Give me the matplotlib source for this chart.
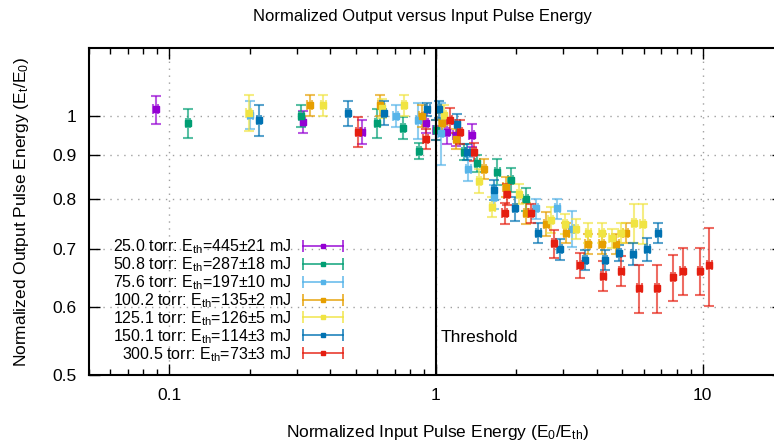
import matplotlib
matplotlib.use("Agg")
import matplotlib.pyplot as plt
from matplotlib.lines import Line2D
from matplotlib.legend_handler import HandlerLine2D, HandlerTuple
from matplotlib.colors import to_rgba

plt.rcParams["font.family"] = ["Liberation Sans", "DejaVu Sans"]
plt.rcParams["mathtext.fontset"] = "custom"
plt.rcParams["mathtext.rm"] = "Liberation Sans"
plt.rcParams["mathtext.it"] = "Liberation Sans:italic"

# gnuplot-like palette
colors = ["#9400D3", "#009E73", "#56B4E9", "#E69F00", "#F0E442", "#0072B2", "#E51E10"]

labels = [
    r"25.0 torr: E$_\mathrm{th}$=445±21 mJ",
    r"50.8 torr: E$_\mathrm{th}$=287±18 mJ",
    r"75.6 torr: E$_\mathrm{th}$=197±10 mJ",
    r"100.2 torr: E$_\mathrm{th}$=135±2 mJ",
    r"125.1 torr: E$_\mathrm{th}$=126±5 mJ",
    r"150.1 torr: E$_\mathrm{th}$=114±3 mJ",
    r"300.5 torr: E$_\mathrm{th}$=73±3 mJ",
]

# 25.0 torr
x_25 = [0.0888, 0.317, 0.529, 0.915, 0.997, 1.10, 1.185, 1.361]
y_25 = [1.018, 0.985, 0.959, 0.981, 0.963, 0.959, 0.950, 0.950]
e_25 = [0.038, 0.029, 0.031, 0.026, 0.026, 0.032, 0.028, 0.029]

# 50.8 torr
x_50 = [0.1177, 0.313, 0.602, 0.752, 0.863, 1.003, 1.274, 1.429, 1.698, 1.906, 2.17]
y_50 = [0.981, 1.000, 0.981, 0.969, 0.911, 0.963, 0.909, 0.881, 0.862, 0.843, 0.800]
e_50 = [0.039, 0.029, 0.039, 0.029, 0.020, 0.026, 0.019, 0.021, 0.030, 0.027, 0.024]

# 75.6 torr
x_75 = [0.2016, 0.706, 0.858, 1.041, 1.322, 1.65, 2.366, 2.85, 3.23]
y_75 = [1.003, 1.000, 0.989, 0.957, 0.869, 0.806, 0.781, 0.781, 0.740]
e_75 = [0.038, 0.029, 0.048, 0.080, 0.028, 0.026, 0.021, 0.021, 0.036]

# 100.2 torr
x_100 = [0.336, 0.617, 0.884, 1.05, 1.19, 1.514, 1.826, 2.18, 2.59, 3.08, 3.70, 4.18, 4.75, 5.14]
y_100 = [1.030, 1.030, 1.000, 0.981, 0.940, 0.869, 0.828, 0.771, 0.750, 0.731, 0.710, 0.710, 0.710, 0.731]
e_100 = [0.029, 0.029, 0.029, 0.026, 0.025, 0.023, 0.022, 0.021, 0.024, 0.020, 0.019, 0.019, 0.019, 0.020]

# 125.1 torr
x_125 = [0.1987, 0.378, 0.629, 0.759, 1.071, 1.450, 1.627, 2.05, 2.69, 3.05, 3.34,
         3.73, 4.18, 4.56, 4.93, 5.53, 5.95]
y_125 = [1.009, 1.030, 1.021, 1.030, 1.003, 0.841, 0.785, 0.812, 0.758, 0.750, 0.740,
         0.731, 0.731, 0.721, 0.731, 0.751, 0.750]
e_125 = [0.049, 0.029, 0.027, 0.029, 0.027, 0.027, 0.021, 0.022, 0.026, 0.020, 0.020,
         0.020, 0.020, 0.019, 0.020, 0.040, 0.040]

# 150.1 torr
x_150 = [0.2168, 0.468, 0.638, 0.928, 1.026, 1.202, 1.31, 1.650, 1.98, 2.42, 2.91,
         3.62, 4.30, 4.86, 5.49, 6.2, 6.82]
y_150 = [0.989, 1.007, 1.009, 1.018, 1.018, 0.979, 0.909, 0.820, 0.781, 0.731, 0.700,
         0.681, 0.680, 0.693, 0.691, 0.700, 0.731]
e_150 = [0.040, 0.034, 0.032, 0.019, 0.022, 0.026, 0.019, 0.022, 0.025, 0.020, 0.019,
         0.018, 0.018, 0.015, 0.020, 0.021, 0.020]

# 300.5 torr
x_300 = [0.511, 0.915, 1.126, 1.230, 1.389, 1.84, 1.81, 2.266, 2.77, 3.46, 4.24, 4.96,
         5.78, 6.73, 7.75, 8.4, 9.78, 10.6]
y_300 = [0.959, 0.940, 0.989, 0.959, 0.909, 0.811, 0.771, 0.771, 0.711, 0.671, 0.652, 0.661,
         0.631, 0.631, 0.650, 0.661, 0.661, 0.671]
e_300 = [0.039, 0.025, 0.032, 0.031, 0.022, 0.022, 0.021, 0.019, 0.027, 0.022, 0.026, 0.027,
         0.041, 0.041, 0.040, 0.041, 0.042, 0.070]

series = [(x_25, y_25, e_25), (x_50, y_50, e_50), (x_75, y_75, e_75), (x_100, y_100, e_100),
          (x_125, y_125, e_125), (x_150, y_150, e_150), (x_300, y_300, e_300)]
x_rel_err = 0.02

fig = plt.figure(figsize=(7.74, 4.43), dpi=100)
ax = fig.add_axes([89 / 774, 68 / 443, 694 / 774, 327 / 443])

handles = []
handler_map = {}
for (xs, ys, es), c, lab in zip(series, colors, labels):
    xe = [v * x_rel_err for v in xs]
    ax.errorbar(xs, ys, yerr=es, xerr=xe, fmt="s", ms=4, color=c,
                ecolor=to_rgba(c, 0.65), elinewidth=1.5, capsize=3.5, capthick=1.5,
                zorder=3)
    bar = Line2D([], [], color=to_rgba(c, 0.8), lw=1.3, marker="|", ms=9, mew=1.3)
    dot = Line2D([], [], color=c, lw=0, marker="s", ms=2.5)
    handler_map[dot] = HandlerLine2D(numpoints=1)
    handler_map[bar] = HandlerLine2D(numpoints=2)
    handles.append((bar, dot))

handler_map[tuple] = HandlerTuple(ndivide=1)

ax.axvline(1.0, color="black", lw=1.5, zorder=4)
ax.text(1.04, 0.553, "Threshold", fontsize=12.5, ha="left", va="center", zorder=5)

ax.set_xscale("log")
ax.set_yscale("log")
ax.set_xlim(0.05, 20)
ax.set_ylim(0.5, 1.2)

ax.set_xticks([0.1, 1, 10], ["0.1", "1", "10"])
yt = [0.5, 0.6, 0.7, 0.8, 0.9, 1.0]
ax.set_yticks(yt, ["0.5", "0.6", "0.7", "0.8", "0.9", "1"])
ax.yaxis.set_minor_locator(matplotlib.ticker.NullLocator())
ax.xaxis.set_minor_formatter(matplotlib.ticker.NullFormatter())

ax.tick_params(which="both", direction="in", top=True, right=True, width=1.0,
               labelsize=12.5, colors="black")
ax.tick_params(which="major", length=8, pad=9)
ax.tick_params(which="minor", length=4.5)
for s in ax.spines.values():
    s.set_linewidth(1.5)

ax.grid(True, which="major", axis="both", color="#a0a0a0", linestyle=(0, (1, 4)), lw=1.0)
ax.set_axisbelow(True)

leg = ax.legend(handles, labels, handler_map=handler_map, loc="lower left",
                bbox_to_anchor=(0.035, 0.035), frameon=False, markerfirst=False,
                fontsize=11.5, handlelength=3.1, handletextpad=0.4,
                labelspacing=-0.05, borderaxespad=0, borderpad=0)
for col in leg._legend_box._children[1]._children:
    col.align = "right"

fig.text(422 / 774, 1 - 17 / 443, "Normalized Output versus Input Pulse Energy",
         ha="center", va="center", fontsize=12)
fig.text(437 / 774, 1 - 432 / 443, r"Normalized Input Pulse Energy (E$_\mathrm{0}$/E$_\mathrm{th}$)",
         ha="center", va="center", fontsize=12.5)
fig.text(22 / 774, 1 - 212 / 443, r"Normalized Output Pulse Energy (E$_\mathrm{t}$/E$_\mathrm{0}$)",
         ha="center", va="center", rotation=90, fontsize=12.5)

fig.savefig("out.png", dpi=100)
